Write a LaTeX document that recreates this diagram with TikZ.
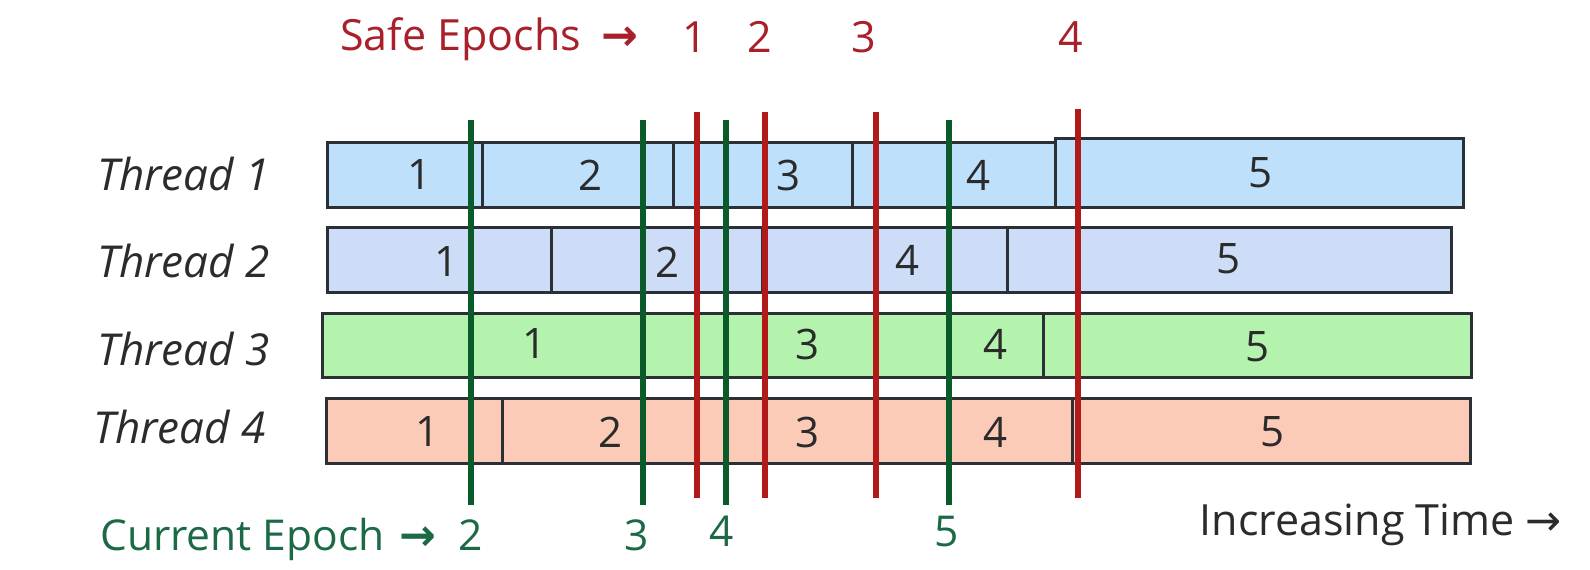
\documentclass[tikz,border=0pt]{standalone}
\usepackage{fontspec}
\setmainfont{Open Sans}
\newfontfamily\arrowfont{DejaVu Sans}
\definecolor{tone}{HTML}{BEE0FA}
\definecolor{ttwo}{HTML}{CDDDF7}
\definecolor{tthree}{HTML}{B3F3AE}
\definecolor{tfour}{HTML}{FBCBB8}
\definecolor{egreen}{HTML}{0B5A2A}
\definecolor{ered}{HTML}{B21A1A}
\definecolor{boxline}{HTML}{2A3035}
\definecolor{safetext}{HTML}{A8202A}
\definecolor{curtext}{HTML}{1B6A45}
\definecolor{numtext}{HTML}{2B2B2B}
\begin{document}
\begin{tikzpicture}[x=1pt,y=-1pt,
  seg/.style={draw=boxline, line width=3pt},
  num/.style={font=\fontsize{42}{48}\selectfont, text=numtext, inner sep=0pt},
  thr/.style={font=\fontsize{44}{50}\selectfont\itshape, text=numtext, inner sep=0pt, anchor=base west},
  gline/.style={draw=egreen, line width=6pt},
  rline/.style={draw=ered, line width=6pt},
  safe/.style={font=\fontsize{43}{48}\selectfont, text=safetext, inner sep=0pt, anchor=base},
  cur/.style={font=\fontsize{42.5}{48}\selectfont, text=curtext, inner sep=0pt, anchor=base},
  arr/.style={font=\fontsize{44}{48}\arrowfont\bfseries, inner sep=0pt, anchor=base}]
\useasboundingbox (0,0) rectangle (1590,570);
\fill[white] (0,0) rectangle (1590,570);

% Thread 1
\path[seg, fill=tone] (327,142) rectangle (482,207);
\path[seg, fill=tone] (482,142) rectangle (673,207);
\path[seg, fill=tone] (673,142) rectangle (852,207);
\path[seg, fill=tone] (852,142) rectangle (1055,207);
\path[seg, fill=tone] (1055,138) rectangle (1463,207);
% Thread 2
\path[seg, fill=ttwo] (327,227) rectangle (551,292);
\path[seg, fill=ttwo] (551,227) rectangle (762,292);
\path[seg, fill=ttwo] (762,227) rectangle (1007,292);
\path[seg, fill=ttwo] (1007,227) rectangle (1451,292);
% Thread 3
\path[seg, fill=tthree] (322,313) rectangle (697,377);
\path[seg, fill=tthree] (697,313) rectangle (876,377);
\path[seg, fill=tthree] (876,313) rectangle (1043,377);
\path[seg, fill=tthree] (1043,313) rectangle (1471,377);
% Thread 4
\path[seg, fill=tfour] (326,398) rectangle (502,463);
\path[seg, fill=tfour] (502,398) rectangle (697,463);
\path[seg, fill=tfour] (697,398) rectangle (876,463);
\path[seg, fill=tfour] (876,398) rectangle (1072,463);
\path[seg, fill=tfour] (1072,398) rectangle (1470,463);

% segment numbers
\node[num] (a1) at (420,175) {1};
\node[num] (a2) at (590,175) {2};
\node[num] (a3) at (788,175) {3};
\node[num] (a4) at (978,175) {4};
\node[num] (a5) at (1260,173) {5};
\node[num] (b1) at (447,262) {1};
\node[num] (b2) at (667,262) {2};
\node[num] (b4) at (907,260) {4};
\node[num] (b5) at (1228,259) {5};
\node[num] (c1) at (535,344) {1};
\node[num] (c3) at (807,344) {3};
\node[num] (c4) at (995,344) {4};
\node[num] (c5) at (1257,347) {5};
\node[num] (d1) at (428,432) {1};
\node[num] (d2) at (610,432) {2};
\node[num] (d3) at (807,432) {3};
\node[num] (d4) at (995,432) {4};
\node[num] (d5) at (1272,432) {5};

% thread labels
\node[thr] (th1) at (97,190) {Thread 1};
\node[thr] (th2) at (97,277) {Thread 2};
\node[thr] (th3) at (97,365) {Thread 3};
\node[thr] (th4) at (93,443) {Thread 4};

% current epoch lines
\foreach \n/\x in {1/471,2/643,3/726,4/949}{
  \coordinate (g\n t) at (\x,120);
  \coordinate (g\n b) at (\x,505);
  \draw[gline] (g\n t) -- (g\n b);
}
% safe epoch lines
\foreach \n/\x/\t in {1/697/112,2/765/112,3/876/112,4/1078/109}{
  \coordinate (r\n t) at (\x,\t);
  \coordinate (r\n b) at (\x,498);
  \draw[rline] (r\n t) -- (r\n b);
}

% Safe epochs labels
\node[safe, anchor=base west] (safelbl) at (340,50) {Safe Epochs};
\node[arr, text=safetext] (safearr) at (620,50) {→};
\node[safe] (s1) at (695,52) {1};
\node[safe] (s2) at (760,52) {2};
\node[safe] (s3) at (864,52) {3};
\node[safe] (s4) at (1071,52) {4};

% Current epoch labels
\node[cur, anchor=base west] (curlbl) at (100,550) {Current Epoch};
\node[arr, text=curtext] (curarr) at (418,550) {→};
\node[cur] (e2) at (471,550) {2};
\node[cur] (e3) at (637,550) {3};
\node[cur] (e4) at (722,546) {4};
\node[cur] (e5) at (947,546) {5};

% time label
\node[font=\fontsize{43}{48}\selectfont, text=numtext, inner sep=0pt, anchor=base east] (time) at (1562,535) {Increasing Time {\arrowfont →}};
\end{tikzpicture}
\end{document}
